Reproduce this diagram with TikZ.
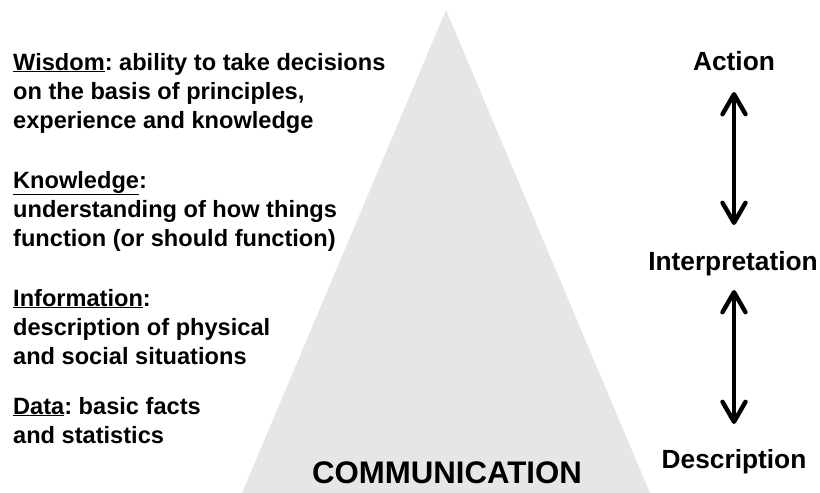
\documentclass[tikz,border=0pt]{standalone}
\usepackage{fontspec}
\setmainfont{Liberation Sans}
\usetikzlibrary{arrows.meta}
\definecolor{trigray}{RGB}{230,230,230}
\frenchspacing
\newcommand{\blocklines}[1]{\begin{tabular}[t]{@{}l@{}}#1\end{tabular}}
\tikzset{
  lefttext/.style={anchor=base west, inner sep=0pt,
    font=\fontsize{23.6}{29.3}\selectfont\bfseries},
  rightlabel/.style={anchor=base, inner sep=0pt,
    font=\fontsize{26.3}{30}\selectfont\bfseries},
  dblarrow/.style={line width=4.4pt,
    {Straight Barb[length=20pt,width=23pt,line cap=round,line join=round]}-{Straight Barb[length=20pt,width=23pt,line cap=round,line join=round]}}
}
\begin{document}
\begin{tikzpicture}[x=1pt,y=-1pt]
\useasboundingbox (0,0) rectangle (820,493);
\fill[trigray] (446,10) -- (242,493) -- (650,493) -- cycle;
\node[anchor=base, inner sep=0pt, font=\fontsize{31.2}{36}\selectfont\bfseries] (comm) at (447,483) {COMMUNICATION};
\node[lefttext] (wisdom) at (13,70) {\blocklines{\underline{Wisdom}: ability to take decisions\\on the basis of principles,\\experience and knowledge}};
\node[lefttext] (knowledge) at (13,188) {\blocklines{\underline{Knowledge}:\\understanding of how things\\function (or should function)}};
\node[lefttext] (information) at (13,306) {\blocklines{\underline{Information}:\\description of physical\\and social situations}};
\node[lefttext] (data) at (13,414) {\blocklines{\underline{Data}: basic facts\\and statistics}};
\node[rightlabel] (action) at (734,70) {Action};
\node[rightlabel] (interp) at (733,270) {Interpretation};
\node[rightlabel] (desc) at (734,468) {Description};
\draw[dblarrow, shorten <=22pt, shorten >=45pt] (action.base) -- (action.base |- interp.base);
\draw[dblarrow, shorten <=20pt, shorten >=44pt] (action.base |- interp.base) -- (action.base |- desc.base);
\end{tikzpicture}
\end{document}
